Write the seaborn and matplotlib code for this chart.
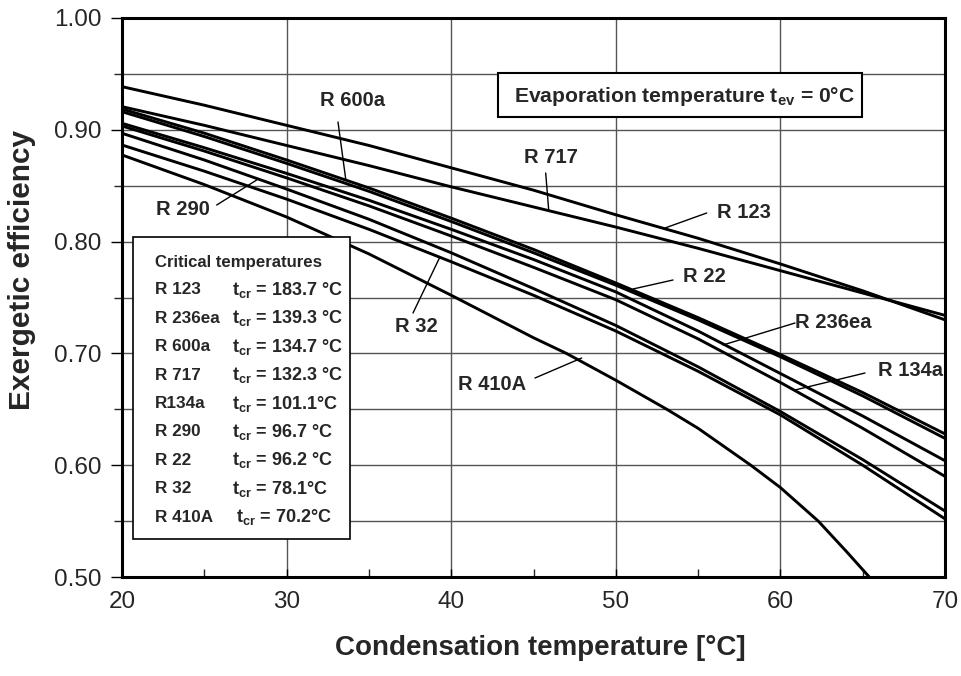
import numpy as np
import pandas as pd
import matplotlib
matplotlib.use("Agg")
import matplotlib.pyplot as plt
from matplotlib.patches import Rectangle
from matplotlib.ticker import MultipleLocator, FormatStrFormatter
import seaborn as sns

sns.set_theme(style="white")
plt.rcParams['font.family'] = ['Liberation Sans', 'DejaVu Sans']
plt.rcParams['mathtext.fontset'] = 'custom'
plt.rcParams['mathtext.rm'] = 'Liberation Sans'
plt.rcParams['mathtext.bf'] = 'Liberation Sans:bold'
plt.rcParams['mathtext.it'] = 'Liberation Sans:italic'

# ---- data ----
t_std = [20, 25, 30, 35, 40, 45, 50, 55, 60, 65, 70]
r123   = [0.9386, 0.922, 0.904, 0.886, 0.866, 0.846, 0.824, 0.803, 0.780, 0.756, 0.730]
r717   = [0.9207, 0.904, 0.886, 0.868, 0.849, 0.831, 0.813, 0.794, 0.774, 0.754, 0.734]
r600a  = [0.9186, 0.897, 0.873, 0.848, 0.821, 0.793, 0.763, 0.732, 0.699, 0.665, 0.628]
r22    = [0.9162, 0.894, 0.870, 0.845, 0.818, 0.790, 0.761, 0.730, 0.697, 0.662, 0.624]
r236ea = [0.9058, 0.884, 0.861, 0.837, 0.811, 0.784, 0.755, 0.720, 0.682, 0.644, 0.604]
r134a  = [0.9034, 0.881, 0.857, 0.832, 0.805, 0.777, 0.748, 0.713, 0.674, 0.633, 0.590]
r290   = [0.8969, 0.873, 0.847, 0.820, 0.790, 0.758, 0.725, 0.688, 0.648, 0.605, 0.559]
r32    = [0.8864, 0.863, 0.838, 0.811, 0.782, 0.752, 0.720, 0.684, 0.645, 0.600, 0.552]
t_410a = [20, 25, 30, 35, 40, 45, 47.0, 50, 53.1, 55, 58.2, 60, 62.3, 64.0, 65.4]
r410a  = [0.8775, 0.851, 0.822, 0.789, 0.752, 0.714, 0.700, 0.676, 0.650, 0.633, 0.600,
          0.580, 0.550, 0.523, 0.500]

refrigerants = ["R 123", "R 236ea", "R 600a", "R 717", "R134a", "R 290", "R 22", "R 32", "R 410A"]
t_crit = ["183.7 °C", "139.3 °C", "134.7 °C", "132.3 °C", "101.1°C", "96.7 °C", "96.2 °C", "78.1°C", "70.2°C"]

series = {
    "R 123": (t_std, r123), "R 717": (t_std, r717), "R 600a": (t_std, r600a),
    "R 22": (t_std, r22), "R 236ea": (t_std, r236ea), "R 134a": (t_std, r134a),
    "R 290": (t_std, r290), "R 32": (t_std, r32), "R 410A": (t_410a, r410a),
}
rows = []
for name, (tt, vv) in series.items():
    for a, b in zip(tt, vv):
        rows.append({"t": a, "eff": b, "ref": name})
df = pd.DataFrame(rows)

# ---- figure ----
W, H = 961, 676
fig = plt.figure(figsize=(W / 100, H / 100), dpi=100)
ax = fig.add_axes([122 / W, 99 / H, 823 / W, 559 / H])

sns.lineplot(data=df, x="t", y="eff", hue="ref", palette=["black"] * len(series),
             estimator=None, sort=False, legend=False, linewidth=2.1, ax=ax, zorder=3)

ax.set_xlim(20, 70)
ax.set_ylim(0.5, 1.0)
ax.xaxis.set_major_locator(MultipleLocator(10))
ax.xaxis.set_minor_locator(MultipleLocator(5))
ax.yaxis.set_major_locator(MultipleLocator(0.1))
ax.yaxis.set_minor_locator(MultipleLocator(0.05))
ax.yaxis.set_major_formatter(FormatStrFormatter("%.2f"))

ax.grid(True, which="major", axis="x", color="#555555", linewidth=1.0, zorder=1)
ax.grid(True, which="both", axis="y", color="#555555", linewidth=1.0, zorder=1)
ax.set_axisbelow(True)

for s in ax.spines.values():
    s.set_visible(True)
    s.set_color("black")
    s.set_linewidth(2.2)

ax.tick_params(axis="both", which="major", labelsize=17.5, color="black", width=1.0)
ax.tick_params(axis="y", which="major", direction="out", length=8, left=True, pad=7)
ax.tick_params(axis="y", which="minor", direction="out", length=6, left=True)
ax.tick_params(axis="x", which="major", direction="in", length=6, bottom=True, pad=10)
ax.tick_params(axis="x", which="minor", direction="in", length=6, bottom=True)

ax.set_xlabel("Condensation temperature [°C]", fontsize=20, fontweight="bold")
ax.set_ylabel("Exergetic efficiency", fontsize=21.5, fontweight="bold")
ax.xaxis.set_label_coords(0.5085, -0.127)
ax.xaxis.label.set_va("center")
ax.yaxis.set_label_coords(-0.1215, 0.549)
ax.yaxis.label.set_va("center")


def px2d(px, py):
    return 20 + (px - 122) / 823 * 50, 1.0 - (py - 18) / 559 * 0.5


# curve labels with pointer lines: (text, text px, pointer start px, pointer end px)
labels = [
    ("R 600a", (352, 100), (338, 122), (345.7, 179)),
    ("R 717", (551, 158), (545.7, 173), (548.7, 210)),
    ("R 123", (744, 213), (706.7, 213), (665, 228)),
    ("R 22", (704, 276), (673, 280), (633, 289)),
    ("R 236ea", (833, 322), (795, 323), (723, 345)),
    ("R 134a", (910, 370), (865, 373), (795, 390)),
    ("R 410A", (492, 384), (535, 378), (581.7, 358)),
    ("R 32", (416, 326), (413, 313), (439.3, 258.3)),
    ("R 290", (183, 209), (216.7, 205), (256.7, 180)),
]
for txt, tp, p0, p1 in labels:
    x, y = px2d(*tp)
    ax.text(x, y, txt, ha="center", va="center", fontsize=14.5, fontweight="bold", zorder=6)
    a0 = px2d(*p0)
    a1 = px2d(*p1)
    ax.plot([a0[0], a1[0]], [a0[1], a1[1]], color="black", linewidth=1.0, zorder=5)

# title box
x0, y0 = px2d(498, 117)
x1, y1 = px2d(862, 73)
ax.add_patch(Rectangle((x0, y0), x1 - x0, y1 - y0, facecolor="white", edgecolor="black",
                       linewidth=1.5, zorder=7))
cx, cy = px2d(685, 96)
ax.text(cx, cy, r"Evaporation temperature t$_{\mathbf{ev}}$ = 0°C", ha="center", va="center",
        fontsize=15.2, fontweight="bold", zorder=8)

# critical temperatures box
bx0, by0 = px2d(133, 539)
bx1, by1 = px2d(350, 237)
ax.add_patch(Rectangle((bx0, by0), bx1 - bx0, by1 - by0, facecolor="white", edgecolor="black",
                       linewidth=1.2, zorder=7))
hx, hy = px2d(155, 263)
ax.text(hx, hy, "Critical temperatures", ha="left", va="center", fontsize=12.1,
        fontweight="bold", zorder=8)
for i, (nm, tc) in enumerate(zip(refrigerants, t_crit)):
    ry = 290 + i * 28.4
    lx, ly = px2d(155, ry)
    ax.text(lx, ly, nm, ha="left", va="center", fontsize=12.3, fontweight="bold", zorder=8)
    cxp = 236 if nm == "R 410A" else 232
    tx, ty = px2d(cxp, ry)
    ax.text(tx, ty, r"t$_{\mathbf{cr}}$ = " + tc, ha="left", va="center", fontsize=13,
            fontweight="bold", zorder=8)

fig.savefig("out.png", dpi=100)
